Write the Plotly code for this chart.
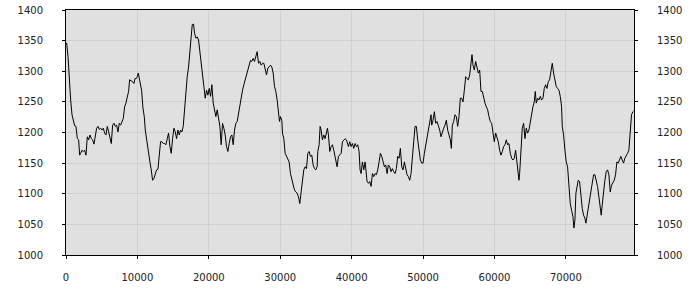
import plotly.graph_objects as go

x_values = [0, 93, 280, 466, 653, 840, 1026, 1213, 1399, 1586, 1772, 1912, 2052, 2239, 2425, 2612, 2798, 2985, 3172, 3358, 3545, 3731, 3918, 4104, 4291, 4477, 4664, 4851, 5037, 5224, 5410, 5597, 5783, 5970, 6156, 6343, 6530, 6716, 6903, 7089, 7276, 7462, 7649, 7835, 8022, 8208, 8395, 8582, 8768, 8908, 9141, 9328, 9515, 9654, 9841, 9981, 10121, 10261, 10401, 10587, 10774, 10960, 11100, 11287, 11473, 11613, 11753, 11940, 12126, 12313, 12499, 12686, 12873, 13059,
    13246, 13432, 13619, 13805, 13992, 14179, 14365, 14552, 14738, 14925, 15111, 15298, 15485, 15671, 15858, 16044, 16231, 16417, 16604, 16790, 16977, 17164, 17350, 17537, 17677, 17863, 18003, 18190, 18376, 18563, 18749, 18936, 19123, 19309, 19496, 19682, 19869, 20055, 20242, 20428, 20615, 20802, 20988, 21175, 21361, 21548, 21734, 21921, 22107, 22294, 22481, 22667, 22854, 23040, 23227, 23413, 23600, 23786, 23973, 24160, 24346, 24533, 24719, 24906, 25092, 25279, 25465, 25652, 25838, 26025, 26212,
    26398, 26585, 26771, 26958, 27144, 27331, 27518, 27704, 27891, 28077, 28264, 28450, 28637, 28824, 29010, 29197, 29383, 29570, 29756, 29896, 30036, 30223, 30316, 30503, 30689, 30876, 31062, 31249, 31435, 31622, 31809, 31995, 32182, 32368, 32555, 32741, 32928, 33115, 33301, 33488, 33674, 33861, 34047, 34234, 34420, 34607, 34794, 34980, 35167, 35260, 35446, 35586, 35726, 35913, 36099, 36286, 36472, 36612, 36752, 36939, 37125, 37312, 37499, 37685, 37872, 37965, 38151, 38338, 38525, 38711, 38898, 39084, 39271, 39411,
    39551, 39737, 39924, 40111, 40297, 40484, 40670, 40857, 41043, 41183, 41323, 41510, 41696, 41883, 42069, 42163, 42349, 42536, 42722, 42909, 43095, 43282, 43468, 43655, 43842, 44028, 44215, 44401, 44588, 44774, 44961, 45148, 45334, 45521, 45707, 45894, 46080, 46267, 46453, 46640, 46827, 47013, 47200, 47386, 47573, 47759, 47946, 48132, 48319, 48506, 48692, 48879, 49065, 49252, 49438, 49625, 49812, 49998, 50185, 50371, 50558, 50744, 50931, 51117, 51211, 51397, 51584, 51770, 51957, 52143, 52330, 52517,
    52703, 52890, 53077, 53263, 53449, 53636, 53823, 53963, 54102, 54289, 54476, 54662, 54849, 55035, 55222, 55408, 55595, 55781, 55968, 56155, 56341, 56528, 56714, 56854, 56994, 57181, 57367, 57554, 57740, 57927, 58113, 58300, 58487, 58673, 58860, 59046, 59233, 59419, 59606, 59792, 59979, 60166, 60352, 60539, 60725, 60912, 61098, 61285, 61471, 61658, 61845, 62031, 62218, 62404, 62591, 62777, 62964, 63150, 63337, 63430, 63524, 63710, 63897, 64083, 64270, 64456, 64643, 64829, 65016, 65203, 65389, 65576, 65716,
    65855, 66042, 66229, 66415, 66602, 66788, 66975, 67162, 67348, 67535, 67721, 67908, 68094, 68281, 68467, 68654, 68841, 69027, 69214, 69400, 69494, 69680, 69867, 70053, 70240, 70426, 70613, 70800, 70986, 71126, 71266, 71406, 71545, 71732, 71919, 72105, 72292, 72478, 72665, 72805, 72945, 73131, 73318, 73504, 73691, 73878, 74064, 74251, 74437, 74624, 74810, 74950, 75090, 75277, 75463, 75650, 75837, 76023, 76210, 76396, 76583, 76769, 76956, 77142, 77329, 77515, 77702, 77888, 78075, 78262, 78448, 78635, 78821, 79008, 79194, 79381, 79474]

y_values = [1345, 1346, 1324, 1275, 1253, 1229, 1220, 1211, 1210, 1190, 1188, 1163, 1166, 1171, 1169, 1171, 1163, 1193, 1188, 1196, 1190, 1188, 1181, 1199, 1207, 1210, 1205, 1207, 1204, 1207, 1199, 1196, 1210, 1201, 1190, 1182, 1212, 1215, 1210, 1212, 1201, 1215, 1212, 1218, 1223, 1242, 1248, 1258, 1267, 1286, 1285, 1283, 1280, 1288, 1288, 1291, 1297, 1288, 1278, 1269, 1240, 1226, 1204, 1188, 1169, 1163, 1152, 1139, 1122, 1125, 1133, 1139, 1140, 1171,
    1185, 1185, 1182, 1182, 1180, 1190, 1199, 1177, 1166, 1190, 1207, 1201, 1190, 1204, 1196, 1204, 1201, 1210, 1242, 1261, 1291, 1307, 1335, 1359, 1376, 1377, 1362, 1354, 1356, 1351, 1329, 1310, 1291, 1275, 1256, 1269, 1261, 1272, 1259, 1278, 1248, 1239, 1226, 1237, 1220, 1210, 1180, 1215, 1207, 1196, 1177, 1169, 1182, 1193, 1196, 1180, 1204, 1215, 1218, 1231, 1250, 1256, 1269, 1278, 1286, 1294, 1305, 1313, 1318, 1316, 1321,
    1316, 1324, 1332, 1313, 1316, 1310, 1313, 1313, 1305, 1294, 1305, 1307, 1310, 1307, 1297, 1275, 1267, 1253, 1237, 1218, 1226, 1220, 1199, 1190, 1166, 1161, 1155, 1152, 1133, 1125, 1114, 1106, 1103, 1101, 1095, 1084, 1103, 1122, 1139, 1144, 1141, 1166, 1169, 1161, 1163, 1147, 1141, 1139, 1144, 1169, 1180, 1210, 1204, 1188, 1196, 1190, 1199, 1207, 1196, 1169, 1177, 1180, 1171, 1161, 1152, 1144, 1161, 1163, 1166, 1185, 1188, 1190, 1188, 1180,
    1177, 1185, 1177, 1182, 1174, 1182, 1177, 1180, 1169, 1139, 1133, 1152, 1139, 1152, 1133, 1120, 1117, 1120, 1112, 1133, 1128, 1133, 1131, 1139, 1152, 1166, 1161, 1152, 1144, 1147, 1133, 1147, 1144, 1136, 1141, 1136, 1133, 1141, 1161, 1158, 1174, 1144, 1139, 1152, 1139, 1131, 1128, 1122, 1133, 1166, 1185, 1210, 1210, 1188, 1171, 1155, 1150, 1150, 1166, 1180, 1193, 1207, 1218, 1229, 1212, 1220, 1234, 1215, 1218, 1212, 1204, 1193,
    1201, 1207, 1212, 1220, 1204, 1196, 1188, 1174, 1212, 1218, 1229, 1226, 1210, 1226, 1256, 1256, 1250, 1269, 1291, 1288, 1286, 1294, 1310, 1327, 1310, 1302, 1316, 1307, 1297, 1302, 1267, 1267, 1256, 1248, 1242, 1237, 1226, 1218, 1215, 1196, 1185, 1199, 1193, 1185, 1171, 1163, 1169, 1177, 1180, 1188, 1180, 1182, 1166, 1158, 1155, 1158, 1171, 1147, 1125, 1122, 1133, 1182, 1207, 1215, 1190, 1207, 1199, 1204, 1218, 1226, 1242, 1250, 1267,
    1248, 1256, 1253, 1259, 1253, 1256, 1272, 1278, 1272, 1283, 1286, 1302, 1313, 1297, 1286, 1275, 1272, 1269, 1259, 1242, 1210, 1196, 1171, 1152, 1144, 1117, 1084, 1073, 1063, 1044, 1057, 1101, 1112, 1122, 1120, 1095, 1076, 1065, 1060, 1052, 1063, 1076, 1090, 1103, 1122, 1131, 1131, 1122, 1112, 1095, 1079, 1065, 1082, 1106, 1122, 1136, 1139, 1131, 1103, 1114, 1117, 1122, 1131, 1152, 1150, 1155, 1161, 1155, 1150, 1158, 1161, 1166, 1171, 1199, 1229, 1234, 1235]

x_ticks = [0, 10000, 20000, 30000, 40000, 50000, 60000, 70000]
y_ticks = [1000, 1050, 1100, 1150, 1200, 1250, 1300, 1350, 1400]

font = dict(family="DejaVu Sans", size=10, color="#222222")

fig = go.Figure()
fig.add_trace(go.Scatter(x=x_values, y=y_values, mode="lines",
                         line=dict(color="black", width=1),
                         showlegend=False, hoverinfo="skip"))
fig.add_trace(go.Scatter(x=[x_values[0]], y=[y_values[0]], yaxis="y2", mode="markers",
                         marker=dict(opacity=0), showlegend=False, hoverinfo="skip"))

fig.update_layout(
    width=700, height=300,
    margin=dict(l=66, r=66, t=10, b=45, autoexpand=False),
    paper_bgcolor="white",
    plot_bgcolor="#e0e0e0",
    font=font,
    xaxis=dict(range=[0, 79540], tickvals=x_ticks, ticktext=[str(v) for v in x_ticks],
               showgrid=True, gridcolor="#d0d0d0", gridwidth=1, zeroline=False,
               showline=True, linecolor="black", linewidth=1, mirror=True,
               ticks="outside", ticklen=3, tickcolor="black", ticklabelstandoff=10,
               tickfont=font, automargin=False),
    yaxis=dict(range=[1000, 1400], tickvals=y_ticks, ticktext=[str(v) for v in y_ticks],
               showgrid=True, gridcolor="#d0d0d0", gridwidth=1, zeroline=False,
               showline=True, linecolor="black", linewidth=1, mirror=True,
               ticks="outside", ticklen=3, tickcolor="black", ticklabelstandoff=17,
               tickfont=font, automargin=False),
    yaxis2=dict(range=[1000, 1400], tickvals=y_ticks, ticktext=[str(v) for v in y_ticks],
                overlaying="y", side="right", showgrid=False, zeroline=False,
                showline=True, linecolor="black", linewidth=1,
                ticks="outside", ticklen=3, tickcolor="black", ticklabelstandoff=17,
                tickfont=font, automargin=False),
)

fig.write_html("out.html")
